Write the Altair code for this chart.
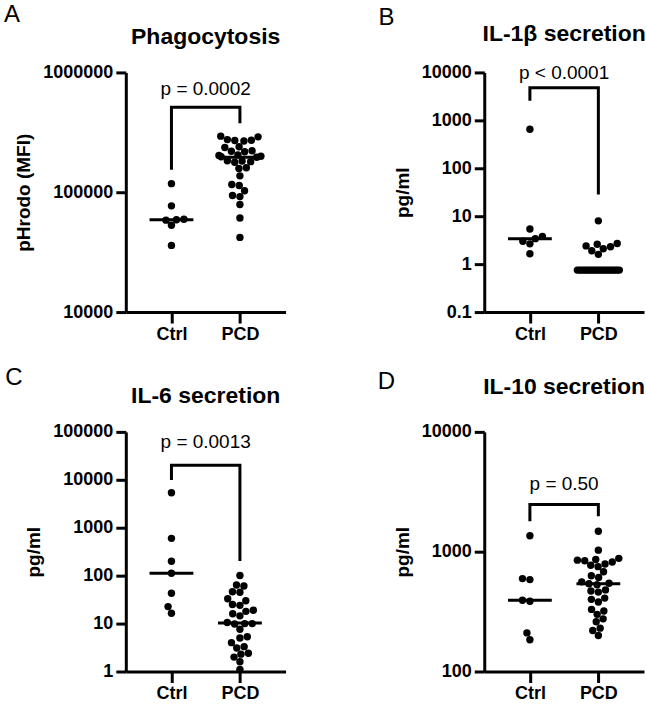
import math
from collections import defaultdict
import altair as alt
import pandas as pd

# ---------------- data ----------------
a_ctrl = [118000, 77000, 59500, 59000, 58500, 53000, 36000]
a_pcd = [294000, 290000, 275000, 272000, 270000, 268000, 240000, 236000, 222000, 220000,
         218000, 205000, 203000, 200000, 198000, 196000, 183000, 182000, 180000, 178000,
         160000, 158000, 137000, 116000, 114000, 103000, 94000, 92000, 79000, 61000, 42000]

b_ctrl = [650, 5.4, 3.8, 3.4, 3.0, 2.65, 1.65]
b_pcd = [8.0, 2.7, 2.6, 2.4, 2.3, 2.1, 1.9, 1.6,
         0.75, 0.75, 0.75, 0.75, 0.75, 0.75, 0.75, 0.75, 0.75, 0.75, 0.75,
         0.75, 0.75, 0.75, 0.75, 0.75, 0.75, 0.75, 0.75, 0.75, 0.75]

c_ctrl = [5360, 600, 200, 112, 43, 22.6, 16.4]
c_pcd = [101, 64, 61, 46, 45, 33, 30, 25, 24, 19, 18, 16, 14.5, 10.5, 10, 10, 9.8, 7.6,
         5.3, 5, 4, 3.3, 3.1, 2.4, 2.3, 2.0, 1.6, 1.1]

d_ctrl = [1360, 596, 585, 393, 386, 210, 184]
d_pcd = [1480, 1030, 880, 860, 850, 840, 820, 790, 770, 750, 680, 630, 610, 560, 545, 540,
         530, 480, 470, 460, 410, 400, 380, 330, 320, 300, 275, 260, 230, 220, 200]

groups = ["Ctrl", "PCD"]
p_labels = ["p = 0.0002", "p < 0.0001", "p = 0.0013", "p = 0.50"]
titles = ["Phagocytosis", "IL-1β secretion", "IL-6 secretion", "IL-10 secretion"]
letters = ["A", "B", "C", "D"]
y_titles = ["pHrodo (MFI)", "pg/ml", "pg/ml", "pg/ml"]
y_domains = [[10000, 1000000], [0.1, 10000], [1, 100000], [100, 10000]]
y_ticks = [[10000, 100000, 1000000], [0.1, 1, 10, 100, 1000, 10000],
           [1, 10, 100, 1000, 10000, 100000], [100, 1000, 10000]]
# bracket: [p-text y, bracket top, left leg bottom, right leg bottom] in data units
brackets = [[722000, 512000, 154000, 377000],
            [9770, 4790, 2580, 28.4],
            [61000, 20200, 9860, 202],
            [3640, 2473, 1798, 1980]]

# ---------------- layout ----------------
W, H = 160, 240
XMIN, XMAX = -2 / 3, 5 / 3
PPU = W / (XMAX - XMIN)
DOT = 7.5
CAP = 21.0
FONT = "Liberation Sans"


def swarm(vals, lo, hi):
    ys = [H * (math.log10(v) - math.log10(lo)) / (math.log10(hi) - math.log10(lo)) for v in vals]
    order = sorted(range(len(vals)), key=lambda i: ys[i])
    offs = [0.0] * len(vals)
    placed = []
    for i in order:
        y = ys[i]
        iv = []
        for j in placed:
            dy = abs(ys[j] - y)
            if dy < DOT:
                dx = math.sqrt(DOT * DOT - dy * dy)
                iv.append((offs[j] - dx, offs[j] + dx))
        cands = [0.0] + [a for a, b in iv] + [b for a, b in iv]
        cands.sort(key=lambda c: (abs(c), c))
        for c in cands:
            if all(not (a + 1e-6 < c < b - 1e-6) for a, b in iv):
                offs[i] = c
                break
        placed.append(i)
    tie = defaultdict(list)
    for i, v in enumerate(vals):
        tie[v].append(i)
    for v, idx in tie.items():
        m = max(abs(offs[i]) for i in idx)
        if len(idx) >= 4 and m > CAP:
            for i in idx:
                offs[i] = offs[i] * CAP / m
    return [max(-CAP, min(CAP, o)) for o in offs]


layout = [
    dict(title_dy=-35, letter=(-114, -58)),
    dict(title_dy=-38, letter=(-98, -55)),
    dict(title_dy=-36, letter=(-112, -54)),
    dict(title_dy=-45, letter=(-98, -50)),
]


def panel(k, ctrl, pcd):
    lo, hi = y_domains[k]
    rows = []
    for gi, vals in enumerate([ctrl, pcd]):
        offs = swarm(vals, lo, hi)
        for v, o in zip(vals, offs):
            rows.append({"g": gi, "v": v, "x": gi + o / PPU})
    df = pd.DataFrame(rows)
    xs = alt.Scale(domain=[XMIN, XMAX], nice=False, zero=False)
    ys = alt.Scale(type="log", domain=[lo, hi], nice=False)
    xaxis = alt.Axis(values=[0, 1], labelExpr="datum.value == 0 ? 'Ctrl' : 'PCD'",
                     tickSize=11, labelPadding=2, title=None, grid=False)
    yaxis = alt.Axis(values=y_ticks[k], format="~f", tickSize=10, labelPadding=3,
                     title=y_titles[k], titlePadding=9, grid=False)

    pts = alt.Chart(df).mark_circle(size=55, color="black", opacity=1).encode(
        x=alt.X("x:Q", scale=xs, axis=xaxis),
        y=alt.Y("v:Q", scale=ys, axis=yaxis),
    )
    med = alt.Chart(df).transform_aggregate(
        m="median(v)", groupby=["g"]
    ).transform_calculate(
        x1="datum.g - 0.32", x2="datum.g + 0.32"
    ).mark_rule(strokeWidth=3, color="black").encode(
        x=alt.X("x1:Q", scale=xs, axis=xaxis),
        x2="x2:Q",
        y=alt.Y("m:Q", scale=ys, axis=yaxis),
    )
    t, top, lb, rb = brackets[k]
    bdf = pd.DataFrame({"bx": [0, 0, 1, 1], "by": [lb, top, top, rb], "o": [0, 1, 2, 3]})
    br = alt.Chart(bdf).mark_line(color="black", strokeWidth=3, strokeJoin="miter").encode(
        x=alt.X("bx:Q", scale=xs, axis=xaxis),
        y=alt.Y("by:Q", scale=ys, axis=yaxis),
        order="o:Q",
    )
    pdf = pd.DataFrame({"px": [0.5], "py": [t], "pt": [p_labels[k]]})
    ptxt = alt.Chart(pdf).mark_text(font=FONT, fontSize=19, color="black",
                                    align="center", baseline="middle").encode(
        x=alt.X("px:Q", scale=xs, axis=xaxis),
        y=alt.Y("py:Q", scale=ys, axis=yaxis),
        text="pt:N",
    )
    L = layout[k]
    tdf = pd.DataFrame({"tt": [titles[k]]})
    ttl = alt.Chart(tdf).mark_text(font=FONT, fontSize=23, fontWeight="bold", color="black",
                                   align="center", baseline="middle").encode(
        x=alt.value(W / 2), y=alt.value(L["title_dy"]), text="tt:N")
    ldf = pd.DataFrame({"lt": [letters[k]]})
    let = alt.Chart(ldf).mark_text(font=FONT, fontSize=24, color="black",
                                   align="center", baseline="middle").encode(
        x=alt.value(L["letter"][0]), y=alt.value(L["letter"][1]), text="lt:N")
    layers = [pts, med, br, ptxt, ttl, let]
    if k == 0:
        anc = alt.Chart(pd.DataFrame({"a": [0]})).mark_rule(strokeWidth=0, opacity=0).encode(
            x=alt.value(-126), x2=alt.value(-126), y=alt.value(-72), y2=alt.value(-72))
        layers.append(anc)
    return alt.layer(*layers).properties(width=W, height=H)


panels = [panel(0, a_ctrl, a_pcd), panel(1, b_ctrl, b_pcd),
          panel(2, c_ctrl, c_pcd), panel(3, d_ctrl, d_pcd)]

chart = alt.concat(
    *panels, columns=2, spacing={"row": 120, "column": 199}, bounds="flush", padding=0
).configure_view(stroke=None).configure_axis(
    domainColor="black", domainWidth=3, tickColor="black", tickWidth=3,
    labelColor="black", labelFont=FONT, labelFontSize=18, labelFontWeight="bold",
    titleColor="black", titleFont=FONT, titleFontSize=19, titleFontWeight="bold",
)

chart.save("out.html", embed_options={"renderer": "svg", "actions": False})
